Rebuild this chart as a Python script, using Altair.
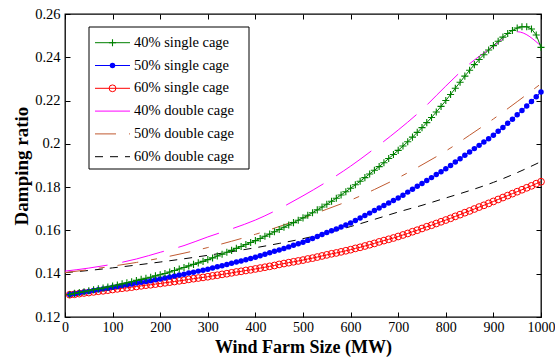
import altair as alt
import pandas as pd

# Wind farm size (MW): single-cage runs are sampled every 10 MW, double-cage every 50 MW
MW_SINGLE = list(range(10, 1001, 10))
MW_DOUBLE = list(range(0, 1001, 50))

# Damping ratio, single-cage induction generators
SINGLE_40 = [
    0.1304, 0.1309, 0.1313, 0.1317, 0.1321, 0.1326, 0.1330, 0.1334, 0.1339, 0.1343,
    0.1348, 0.1353, 0.1358, 0.1363, 0.1369, 0.1374, 0.1379, 0.1384, 0.1390, 0.1395,
    0.1401, 0.1408, 0.1415, 0.1422, 0.1429, 0.1436, 0.1443, 0.1450, 0.1457, 0.1465,
    0.1473, 0.1482, 0.1490, 0.1499, 0.1508, 0.1517, 0.1526, 0.1535, 0.1544, 0.1553,
    0.1563, 0.1573, 0.1583, 0.1594, 0.1604, 0.1615, 0.1625, 0.1636, 0.1647, 0.1658,
    0.1670, 0.1682, 0.1695, 0.1708, 0.1721, 0.1735, 0.1749, 0.1764, 0.1779, 0.1795,
    0.1811, 0.1827, 0.1844, 0.1861, 0.1878, 0.1895, 0.1913, 0.1932, 0.1951, 0.1970,
    0.1990, 0.2010, 0.2031, 0.2053, 0.2075, 0.2098, 0.2122, 0.2147, 0.2173, 0.2200,
    0.2228, 0.2257, 0.2285, 0.2313, 0.2340, 0.2366, 0.2390, 0.2412, 0.2434, 0.2454,
    0.2474, 0.2493, 0.2510, 0.2524, 0.2535, 0.2541, 0.2541, 0.2531, 0.2503, 0.2446,
]
SINGLE_50 = [
    0.1304, 0.1307, 0.1311, 0.1315, 0.1318, 0.1322, 0.1326, 0.1330, 0.1333, 0.1337,
    0.1341, 0.1345, 0.1349, 0.1353, 0.1357, 0.1360, 0.1364, 0.1368, 0.1372, 0.1376,
    0.1380, 0.1385, 0.1389, 0.1394, 0.1398, 0.1403, 0.1407, 0.1412, 0.1416, 0.1421,
    0.1426, 0.1432, 0.1437, 0.1443, 0.1448, 0.1454, 0.1459, 0.1465, 0.1470, 0.1476,
    0.1483, 0.1490, 0.1497, 0.1504, 0.1510, 0.1517, 0.1524, 0.1531, 0.1538, 0.1545,
    0.1554, 0.1563, 0.1572, 0.1581, 0.1590, 0.1598, 0.1607, 0.1616, 0.1625, 0.1634,
    0.1646, 0.1657, 0.1669, 0.1680, 0.1692, 0.1704, 0.1715, 0.1727, 0.1738, 0.1750,
    0.1763, 0.1777, 0.1790, 0.1804, 0.1817, 0.1831, 0.1844, 0.1858, 0.1871, 0.1885,
    0.1900, 0.1916, 0.1931, 0.1947, 0.1962, 0.1978, 0.1993, 0.2009, 0.2024, 0.2040,
    0.2058, 0.2076, 0.2095, 0.2114, 0.2134, 0.2154, 0.2175, 0.2196, 0.2218, 0.2240,
]
SINGLE_60 = [
    0.1303, 0.1305, 0.1308, 0.1311, 0.1313, 0.1316, 0.1319, 0.1321, 0.1324, 0.1327,
    0.1330, 0.1333, 0.1335, 0.1338, 0.1341, 0.1344, 0.1347, 0.1349, 0.1352, 0.1355,
    0.1358, 0.1361, 0.1364, 0.1367, 0.1370, 0.1374, 0.1377, 0.1380, 0.1383, 0.1386,
    0.1390, 0.1393, 0.1397, 0.1400, 0.1404, 0.1408, 0.1411, 0.1415, 0.1418, 0.1422,
    0.1426, 0.1430, 0.1434, 0.1438, 0.1443, 0.1447, 0.1451, 0.1455, 0.1459, 0.1463,
    0.1468, 0.1472, 0.1477, 0.1482, 0.1487, 0.1492, 0.1496, 0.1501, 0.1506, 0.1511,
    0.1517, 0.1522, 0.1528, 0.1534, 0.1540, 0.1547, 0.1553, 0.1559, 0.1565, 0.1572,
    0.1579, 0.1586, 0.1594, 0.1601, 0.1609, 0.1617, 0.1624, 0.1632, 0.1640, 0.1648,
    0.1656, 0.1665, 0.1673, 0.1682, 0.1690, 0.1699, 0.1708, 0.1716, 0.1725, 0.1734,
    0.1743, 0.1752, 0.1761, 0.1770, 0.1779, 0.1788, 0.1797, 0.1806, 0.1816, 0.1825,
]

# Damping ratio, double-cage induction generators
DOUBLE_40 = [0.1412, 0.1426, 0.1444, 0.1468, 0.1499, 0.1530, 0.1570, 0.1607, 0.1648, 0.1700,
             0.1760, 0.1825, 0.1897, 0.1978, 0.2064, 0.2158, 0.2267, 0.2370, 0.2450, 0.2518,
             0.2452]
DOUBLE_50 = [0.1405, 0.1419, 0.1435, 0.1452, 0.1472, 0.1495, 0.1521, 0.1550, 0.1582, 0.1618,
             0.1657, 0.1698, 0.1740, 0.1789, 0.1843, 0.1903, 0.1967, 0.2040, 0.2115, 0.2195,
             0.2278]
DOUBLE_60 = [0.1405, 0.1415, 0.1427, 0.1440, 0.1454, 0.1469, 0.1485, 0.1502, 0.1520, 0.1540,
             0.1562, 0.1588, 0.1618, 0.1651, 0.1685, 0.1716, 0.1750, 0.1784, 0.1822, 0.1867,
             0.1918]

LABELS = ["40% single cage", "50% single cage", "60% single cage",
          "40% double cage", "50% double cage", "60% double cage"]

X_TICKS = [0, 100, 200, 300, 400, 500, 600, 700, 800, 900, 1000]
Y_TICKS = [0.12, 0.14, 0.16, 0.18, 0.2, 0.22, 0.24, 0.26]

W, H = 476, 303
FONT = "Liberation Serif"
PLUS = "M-1,0H1M0,-1V1"

GREEN, BLUE, RED = "#008000", "#0000ff", "#ff0000"
MAGENTA, BROWN, BLACK = "#ff00ff", "#c05a30", "#000000"

MARK_40 = dict(shape=PLUS, filled=False, size=50, strokeWidth=1.1)
MARK_50 = dict(shape="circle", filled=True, size=30)
MARK_60 = dict(shape="circle", filled=False, size=46, strokeWidth=1)

x_scale = alt.Scale(domain=[0, 1000], nice=False)
y_scale = alt.Scale(domain=[0.12, 0.26], nice=False)

# main axes carry labels and titles; extra axes pushed across the frame draw inward ticks
label_axis_x = alt.Axis(orient="bottom", values=X_TICKS, format="d", ticks=False, domain=False,
                        grid=False, labelFont=FONT, labelFontSize=14, labelColor="black",
                        labelPadding=3, labelFlush=False, labelOverlap=False,
                        title="Wind Farm Size (MW)", titleFont=FONT, titleFontSize=18,
                        titleFontWeight="bold", titleColor="black", titlePadding=4)
label_axis_y = alt.Axis(orient="left", values=Y_TICKS, format="~g", ticks=False, domain=False,
                        grid=False, labelFont=FONT, labelFontSize=14.5, labelColor="black",
                        labelPadding=5, labelFlush=False, labelOverlap=False,
                        title="Damping ratio", titleFont=FONT, titleFontSize=19,
                        titleFontWeight="bold", titleColor="black", titlePadding=3)


def tick_axis(orient, offset, values):
    return alt.Axis(orient=orient, offset=offset, values=values, labels=False, domain=False,
                    grid=False, ticks=True, tickSize=5, tickColor="black", tickWidth=1,
                    title=None)


def xy(ax_x=None, ax_y=None):
    return dict(x=alt.X("mw:Q", scale=x_scale, axis=ax_x),
                y=alt.Y("ratio:Q", scale=y_scale, axis=ax_y))


def frame(mw, vals):
    return pd.DataFrame({"mw": mw, "ratio": vals})


layers = []

# double-cage curves (plain lines with dash styles)
double_specs = [
    (DOUBLE_60, BLACK, [8, 7], label_axis_x, label_axis_y),
    (DOUBLE_50, BROWN, [21, 13, 6, 13], tick_axis("top", -H, X_TICKS), tick_axis("right", -W, Y_TICKS)),
    (DOUBLE_40, MAGENTA, [43, 15], tick_axis("bottom", -H, X_TICKS), tick_axis("left", -W, Y_TICKS)),
]
for vals, color, dash, ax, ay in double_specs:
    layers.append(
        alt.Chart(frame(MW_DOUBLE, vals))
        .mark_line(stroke=color, strokeWidth=1, strokeDash=dash, interpolate="monotone")
        .encode(**xy(ax, ay))
    )

# single-cage curves: line plus a marker at every sample
single_specs = [(SINGLE_60, RED, MARK_60), (SINGLE_50, BLUE, MARK_50), (SINGLE_40, GREEN, MARK_40)]
for vals, color, marker in single_specs:
    base = alt.Chart(frame(MW_SINGLE, vals))
    layers.append(base.mark_line(stroke=color, strokeWidth=1).encode(**xy()))
    layers.append(base.mark_point(color=color, opacity=1, **marker).encode(**xy()))

# legend (pixel positions relative to the plotting area)
one = alt.Data(values=[{"k": 0}])
layers.append(
    alt.Chart(one).mark_rect(fill="white", stroke="black", strokeWidth=1)
    .encode(x=alt.value(24), x2=alt.value(184), y=alt.value(13), y2=alt.value(155))
)

legend_entries = [
    (GREEN, None, MARK_40),
    (BLUE, None, MARK_50),
    (RED, None, MARK_60),
    (MAGENTA, [43, 15], None),
    (BROWN, [21, 13, 6, 13], None),
    (BLACK, [8, 7], None),
]
for i, (label, (color, dash, marker)) in enumerate(zip(LABELS, legend_entries)):
    yv = 28.7 + i * 22.8
    rule_kw = dict(stroke=color, strokeWidth=1)
    if dash:
        rule_kw["strokeDash"] = dash
    layers.append(
        alt.Chart(one).mark_rule(**rule_kw)
        .encode(x=alt.value(30), x2=alt.value(65), y=alt.value(yv))
    )
    if marker:
        layers.append(
            alt.Chart(one).mark_point(color=color, opacity=1, **marker)
            .encode(x=alt.value(47.5), y=alt.value(yv))
        )
    layers.append(
        alt.Chart(one).mark_text(align="left", baseline="middle", font=FONT, fontSize=14.5,
                                 color="black")
        .encode(x=alt.value(69), y=alt.value(yv), text=alt.value(label))
    )

chart = (
    alt.layer(*layers)
    .resolve_axis(x="independent", y="independent")
    .properties(
        width=W, height=H,
        padding={"left": 65, "top": 14, "right": 14, "bottom": 47},
        autosize=alt.AutoSizeParams(type="none"),
        background="white",
    )
    .configure_view(stroke="black", strokeWidth=1.3)
)

chart.save("out.html", embed_options={"renderer": "svg", "actions": False})
